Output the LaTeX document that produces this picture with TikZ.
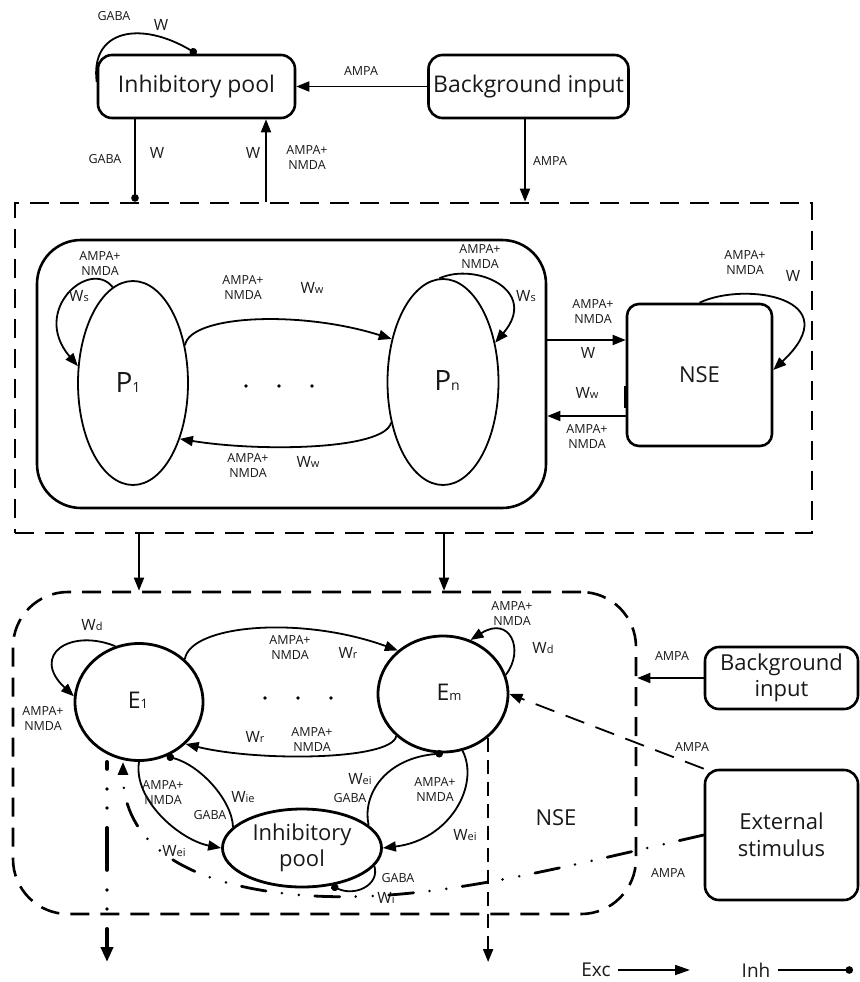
\documentclass[tikz,border=0pt]{standalone}
\usepackage{fontspec}
\setmainfont{Open Sans}
\usetikzlibrary{arrows.meta,shapes.geometric}
\newcommand\wsub[1]{W{\fontsize{11}{11}\selectfont #1}}
\tikzset{
  bigbox/.style={draw, line width=2.6pt, rounded corners=14pt, font=\fontsize{23}{27}\selectfont, align=center, inner sep=0pt, text=black!90},
  pop/.style={draw, ellipse, line width=1.8pt, inner sep=0pt},
  bigpop/.style={draw, ellipse, line width=2.8pt, inner sep=0pt, font=\fontsize{23}{26}\selectfont, align=center, text=black!90},
  conn/.style={line width=1.8pt},
  exc/.style={conn, -{Triangle[length=13pt,width=10pt]}},
  inh/.style={conn, -{Circle[length=7.5pt]}},
  lab/.style={font=\fontsize{12.5}{15}\selectfont, align=center, inner sep=0pt, text=black!90},
  wlab/.style={font=\fontsize{15.5}{17}\selectfont, inner sep=0pt, text=black!90},
  dbox/.style={draw, line width=2.6pt, dash pattern=on 19pt off 11pt, inner sep=0pt},
  dotmark/.style={fill, circle, inner sep=0pt, minimum size=3.8pt},
}
\begin{document}
\begin{tikzpicture}[x=1pt,y=-1pt]
\useasboundingbox (0,0) rectangle (859,982);
\fill[white] (0,0) rectangle (859,982);

% ---------------- top part ----------------
\node[bigbox, minimum width=197pt, minimum height=63pt] (ip) at (196.5,86.5) {Inhibitory pool};
\node[bigbox, minimum width=200pt, minimum height=63pt] (bg) at (528.5,86.5) {Background input};
\node[dbox, minimum width=797pt, minimum height=330pt] (outer) at (413.5,368) {};
\node[draw, line width=2.6pt, rounded corners=44pt, minimum width=509pt, minimum height=268pt] (inner) at (291.5,374) {};

\draw[inh] (ip.west |- 0,82) .. controls (90,30) and (140,20) .. (ip.north);
\node[lab] (l1) at (114,16) {GABA};
\node[wlab] (l2) at (161,25) {W};

\draw[exc] (bg.west) -- (ip.east);
\node[lab] (l3) at (361,71) {AMPA};
\draw[exc] (bg.south -| 525,0) -- (outer.north -| 525,0);
\node[lab] (l4) at (550,161) {AMPA};
\draw[inh] (ip.south -| 135,0) -- (outer.north -| 135,0);
\node[lab] (l5) at (105,159) {GABA};
\node[wlab] (l6) at (157,153) {W};
\draw[exc] (outer.north -| 266,0) -- (ip.south -| 266,0);
\node[wlab] (l7) at (253,153) {W};
\node[lab] (l8) at (307,158) {AMPA+\\NMDA};

% populations P1 ... Pn
\node[pop, minimum width=110pt, minimum height=204pt] (P1) at (133,383) {};
\node[inner sep=0pt, text=black!90] (P1t) at (128,383) {{\fontsize{28}{30}\selectfont P}{\fontsize{14}{14}\selectfont 1}};
\node[pop, minimum width=111pt, minimum height=206pt] (Pn) at (443,382) {};
\node[inner sep=0pt, text=black!90] (Pnt) at (447,381) {{\fontsize{28}{30}\selectfont P}{\fontsize{14}{14}\selectfont n}};

\draw[exc] (P1.102) .. controls (90,258) and (30,310) .. (P1.163);
\node[lab] (l9) at (100,264) {AMPA+\\NMDA};
\node[wlab] (l10) at (79,296) {\wsub{s}};

\draw[exc] (Pn.92) .. controls (475,262) and (540,290) .. (Pn.37);
\node[lab] (l11) at (480,257) {AMPA+\\NMDA};
\node[wlab] (l12) at (526,296) {\wsub{s}};

\draw[exc] (P1.36) .. controls (190,315) and (300,310) .. (Pn.140);
\node[lab] (l13) at (243,288) {AMPA+\\NMDA};
\node[wlab] (l14) at (312,288) {\wsub{w}};
\draw[exc] (Pn.218) .. controls (385,450) and (260,452) .. (P1.310);
\node[lab] (l15) at (248,466) {AMPA+\\NMDA};
\node[wlab] (l16) at (308,462) {\wsub{w}};

\node[dotmark] (d1) at (246,386) {};
\node[dotmark] (d2) at (279,386) {};
\node[dotmark] (d3) at (312,386) {};

% NSE (top)
\node[bigbox, font=\fontsize{22}{26}\selectfont, rounded corners=12pt, minimum width=145pt, minimum height=142pt] (nse) at (699.5,375) {NSE};
\draw[exc] (inner.east |- 0,340) -- (nse.west |- 0,340);
\node[lab] (l17) at (593,312) {AMPA+\\NMDA};
\node[wlab] (l18) at (588,353) {W};
\draw[exc] (nse.west |- 0,416) -- (inner.east |- 0,416);
\node[wlab] (l19) at (587,393) {\wsub{w}};
\node[lab] (l20) at (587,437) {AMPA+\\NMDA};
\draw[line width=3.8pt] (nse.west |- 0,386) -- (nse.west |- 0,408);
\draw[exc] (nse.north) .. controls (745,281) and (850,298) .. (nse.east |- 0,370);
\node[lab] (l21) at (745,263) {AMPA+\\NMDA};
\node[wlab] (l22) at (793,276) {W};

% ---------------- bottom part ----------------
\node[dbox, rounded corners=55pt, minimum width=623pt, minimum height=322pt] (lower) at (324.5,753) {};
\draw[exc] (outer.south -| 139,0) -- (lower.north -| 139,0);
\draw[exc] (outer.south -| 444,0) -- (lower.north -| 444,0);

\node[bigpop, minimum width=128pt, minimum height=117pt] (E1) at (139,702) {};
\node[inner sep=0pt, text=black!90] (E1t) at (138,700) {{\fontsize{23}{26}\selectfont E}{\fontsize{13}{13}\selectfont 1}};
\node[bigpop, minimum width=130pt, minimum height=116pt] (Em) at (443,694) {};
\node[inner sep=0pt, text=black!90] (Emt) at (449,692) {{\fontsize{23}{26}\selectfont E}{\fontsize{13}{13}\selectfont m}};
\node[bigpop, minimum width=159pt, minimum height=78pt, font=\fontsize{22}{26}\selectfont] (ipb) at (302,848) {Inhibitory\\pool};

\draw[exc] (E1.113) .. controls (70,628) and (30,655) .. (E1.175);
\node[wlab] (l23) at (92,625) {\wsub{d}};
\node[lab] (l24) at (43,719) {AMPA+\\NMDA};

\draw[exc] (Em.17) .. controls (525,650) and (510,615) .. (Em.63);
\node[lab] (l25) at (512,614) {AMPA+\\NMDA};
\node[wlab] (l26) at (543,648) {\wsub{d}};

\draw[exc] (E1.43) .. controls (190,625) and (300,615) .. (Em.136);
\node[lab] (l27) at (290,648) {AMPA+\\NMDA};
\node[wlab] (l28) at (348,653) {\wsub{r}};
\draw[exc] (Em.222) .. controls (392,760) and (260,762) .. (E1.318);
\node[wlab] (l29) at (255,737) {\wsub{r}};
\node[lab] (l30) at (312,740) {AMPA+\\NMDA};

\node[dotmark] (d4) at (265,698) {};
\node[dotmark] (d5) at (298,698) {};
\node[dotmark] (d6) at (331,698) {};

\draw[exc] (E1.south) .. controls (133,800) and (180,840) .. (ipb.west);
\node[lab] (l31) at (163,793) {AMPA+\\NMDA};
\draw[inh] (ipb.163) .. controls (232,800) and (200,765) .. (E1.297);
\node[wlab] (l32) at (243,797) {\wsub{ie}};
\node[lab] (l33) at (210,815) {GABA};

\draw[inh] (ipb.19) .. controls (362,795) and (385,758) .. (Em.south);
\node[wlab] (l34) at (360,779) {\wsub{ei}};
\node[lab] (l35) at (350,798) {GABA};
\draw[exc] (Em.289) .. controls (480,785) and (450,840) .. (ipb.east);
\node[lab] (l36) at (435,790) {AMPA+\\NMDA};
\node[wlab] (l37) at (465,835) {\wsub{ei}};

\draw[inh] (ipb.346) .. controls (380,885) and (355,897) .. (ipb.308);
\node[lab] (l38) at (398,878) {GABA};
\node[wlab] (l39) at (386,898) {\wsub{i}};

% outputs
\coordinate (emout) at (488,962);
\draw[line width=2pt, dash pattern=on 14pt off 8pt, -{Triangle[length=13pt,width=10pt]}] (Em.316) -- (Em.316 |- emout);
\coordinate (e1out) at (107,962);
\draw[line width=3.8pt, line cap=round, dash pattern=on 42pt off 20pt on 0pt off 19pt on 0pt off 20pt, dash phase=35pt, -{Triangle[length=15pt,width=12pt]}] (E1.south -| e1out) -- (e1out);

\node[font=\fontsize{22}{26}\selectfont, inner sep=0pt, text=black!90] (nsel) at (556,818) {NSE};

% right-hand inputs
\node[bigbox, minimum width=153pt, minimum height=62pt, font=\fontsize{22}{26}\selectfont] (bg2) at (781.5,678) {Background\\input};
\draw[exc] (bg2.west) -- (lower.east |- bg2.west);
\node[lab] (l40) at (672,656) {AMPA};

\node[bigbox, minimum width=153pt, minimum height=130pt, font=\fontsize{22}{27}\selectfont] (ext) at (781.5,835) {External\\stimulus};
\draw[conn, dash pattern=on 20pt off 12pt, -{Triangle[length=13pt,width=10pt]}] (ext.north west) -- (Em.east);
\node[lab] (l41) at (692,747) {AMPA};

\draw[line width=2.8pt, line cap=round, dash pattern=on 25pt off 16pt on 0pt off 17pt on 0pt off 16pt, -{Triangle[length=13pt,width=10pt]}]
  (ext.west) .. controls (550,870) and (420,905) .. (300,895)
  .. controls (180,885) and (123,840) .. (E1.south -| 123,0);
\node[lab] (l42) at (668,873) {AMPA};
\node[wlab] (l43) at (174,851) {\wsub{ei}};

% legend
\node[font=\fontsize{19}{21}\selectfont, inner sep=0pt, text=black!90] (lexc) at (596,970) {Exc};
\coordinate (lea) at (618,970);
\coordinate (leb) at (690,970);
\draw[conn, -{Triangle[length=15pt,width=10pt]}] (lea) -- (leb);
\node[font=\fontsize{19}{21}\selectfont, inner sep=0pt, text=black!90] (linh) at (756,970) {Inh};
\coordinate (lia) at (778,970);
\coordinate (lib) at (853,970);
\draw[inh] (lia) -- (lib);
\end{tikzpicture}
\end{document}
